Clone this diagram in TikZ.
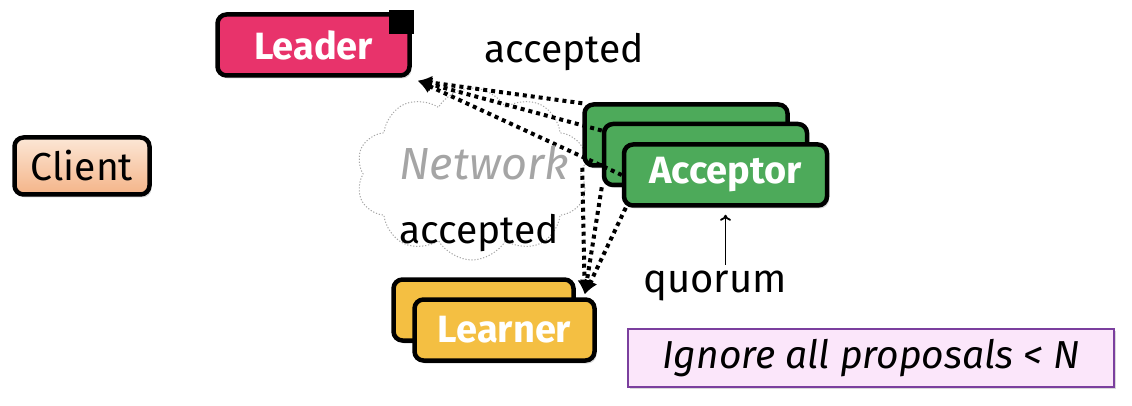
\documentclass[tikz,border=0pt]{standalone}
\usepackage{fontspec}
\setmainfont{Fira Sans}
\usetikzlibrary{arrows.meta,shapes.symbols,shadows,calc}
\pgfdeclarelayer{boxes}
\pgfdeclarelayer{links}
\pgfsetlayers{boxes,links,main}
\definecolor{leaderred}{HTML}{E8336B}
\definecolor{accgreen}{HTML}{4DAA5A}
\definecolor{lrnyellow}{HTML}{F4BF42}
\definecolor{clienttop}{HTML}{FCE7D6}
\definecolor{clientbot}{HTML}{F4B488}
\definecolor{notefill}{HTML}{FBE6FA}
\definecolor{noteline}{HTML}{7B3F9E}
\definecolor{netgray}{HTML}{A5A5A5}
\tikzset{
  role/.style={draw=black, line width=4.5pt, rounded corners=9pt, inner sep=0pt,
    text=white, font=\fontsize{38}{42}\selectfont\bfseries,
    drop shadow={shadow xshift=2pt, shadow yshift=-3pt, opacity=.3}},
  msg/.style={line width=4pt, dash pattern=on 4pt off 4pt,
    -{Latex[length=14pt,width=14pt]}},
  lbl/.style={anchor=base, font=\fontsize{39}{44}\selectfont},
}

\begin{document}
\begin{tikzpicture}[x=1pt,y=-1pt]
  \useasboundingbox (0,0) rectangle (1132,406);

  \node[role, fill=leaderred, minimum width=192pt, minimum height=61pt] (leader) at (313.5,45) {Leader};
  \fill ($(leader.north east)+(2.25,-2.25)$) rectangle ++(-25,24);
  \coordinate (leadin) at ($(leader.south east)+(6,3)$);

  \node[role, text=black, font=\fontsize{39}{44}\selectfont, top color=clienttop, bottom color=clientbot,
        minimum width=135pt, minimum height=57pt] (client) at (82,166) {Client};

  \node[role, fill=accgreen, minimum width=203pt, minimum height=61pt] (acc3) at (725.5,175) {Acceptor};
  \begin{pgfonlayer}{boxes}
    \node[cloud, draw=netgray, line width=1pt, dash pattern=on 1.2pt off 1.8pt,
          cloud puffs=10, cloud puff arc=120, cloud ignores aspect,
          minimum width=232pt, minimum height=172pt] (net) at (472,174) {};
    \node[role, fill=accgreen, minimum width=203pt, minimum height=61pt] (acc1) at (686,135) {};
    \node[role, fill=accgreen, minimum width=203pt, minimum height=61pt] (acc2) at (705.5,154.5) {};
  \end{pgfonlayer}

  \node[role, fill=lrnyellow, minimum width=180pt, minimum height=61pt] (lrn1) at (483.5,310) {};
  \node[role, fill=lrnyellow, minimum width=180pt, minimum height=61pt] (lrn2) at (504.5,330) {Learner};
  \coordinate (lrnin) at ($(lrn2.north east)+(-12,-3)$);

  \node[lbl, text=netgray, font=\fontsize{45}{50}\selectfont\itshape] (netlbl) at (484,180) {Network};
  \node[lbl] (acctop) at (564,63) {accepted};
  \node[lbl] (accbot) at (479,243) {accepted};
  \node[lbl, font=\fontsize{40}{44}\selectfont] (quorum) at (715,292) {quorum};

  \node[draw=noteline, line width=2pt, fill=notefill, minimum width=486pt, minimum height=58pt,
        font=\fontsize{39}{44}\selectfont\itshape,
        drop shadow={shadow xshift=2pt, shadow yshift=-2pt, opacity=.3}] (note) at (871,358)
        {Ignore all proposals < N};

  \begin{pgfonlayer}{links}
    \draw[msg] (acc1.163) -- (leadin);
    \draw[msg] (acc2.167) -- (leadin);
    \draw[msg] (acc3.west) -- (leadin);
    \draw[msg] (acc1.south west) -- (lrnin);
    \draw[msg] (acc2.south west) -- (lrnin);
    \draw[msg] ($(acc3.south west)+(4,0)$) -- (lrnin);
  \end{pgfonlayer}
  \draw[line width=1.8pt, -{To[length=6pt,width=11pt]}, shorten >=7pt, shorten <=2pt]
    (quorum.north -| acc3.south) -- (acc3.south);
\end{tikzpicture}
\end{document}
